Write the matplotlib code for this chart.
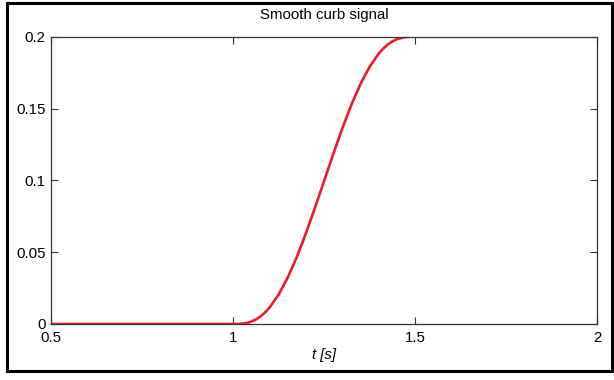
import numpy as np
import matplotlib.pyplot as plt
from matplotlib.patches import Rectangle

# values
t = [0.5, 1.0, 1.0125, 1.025, 1.0375, 1.05, 1.0625, 1.075, 1.0875, 1.1, 1.125,
     1.15, 1.175, 1.2, 1.225, 1.25, 1.275, 1.3, 1.325, 1.35, 1.375, 1.4,
     1.4125, 1.425, 1.4375, 1.45, 1.4625, 1.475, 1.4875, 1.5, 2.0]
y = [0.0, 0.0, 0.00003, 0.0002, 0.00075, 0.0017, 0.0032, 0.0053, 0.0081,
     0.0116, 0.0207, 0.0326, 0.0470, 0.0635, 0.0814, 0.1, 0.1186, 0.1365,
     0.1530, 0.1674, 0.1793, 0.1884, 0.1919, 0.1947, 0.1968, 0.1983, 0.19925,
     0.1998, 0.19997, 0.2, 0.2]
xticks = [0.5, 1, 1.5, 2]
xtick_labels = ['0.5', '1', '1.5', '2']
yticks = [0, 0.05, 0.1, 0.15, 0.2]
ytick_labels = ['0', '0.05', '0.1', '0.15', '0.2']

plt.rcParams['font.family'] = ['Liberation Sans', 'DejaVu Sans']
plt.rcParams['font.size'] = 10.8

fig = plt.figure(figsize=(6.14, 3.8), dpi=100)
ax = fig.add_axes([0.0836, 0.1474, 0.8892, 0.756])

ax.plot(t, y, color='#ee1c24', linewidth=1.9, solid_capstyle='butt',
        solid_joinstyle='round')
ax.set_xlim(0.5, 2)
ax.set_ylim(0, 0.2)
ax.set_xticks(xticks)
ax.set_xticklabels(xtick_labels)
ax.set_yticks(yticks)
ax.set_yticklabels(ytick_labels)
ax.tick_params(direction='in', length=5, width=0.8, color='#333333',
               top=True, right=True, labelsize=10.8, pad=4)
ax.tick_params(axis='x', pad=5)
for s in ax.spines.values():
    s.set_color('#333333')
    s.set_linewidth(0.9)

ax.set_title('Smooth curb signal', fontsize=10.8, pad=13)
ax.set_xlabel('t [s]', fontstyle='italic', fontsize=10.8, labelpad=2)

# black frame round the figure
fig.patches.append(Rectangle((7 / 614, 1 - 371 / 380), 605 / 614, 368 / 380,
                             transform=fig.transFigure, fill=False,
                             edgecolor='black', linewidth=2.2))

fig.savefig('out.png', dpi=100)
